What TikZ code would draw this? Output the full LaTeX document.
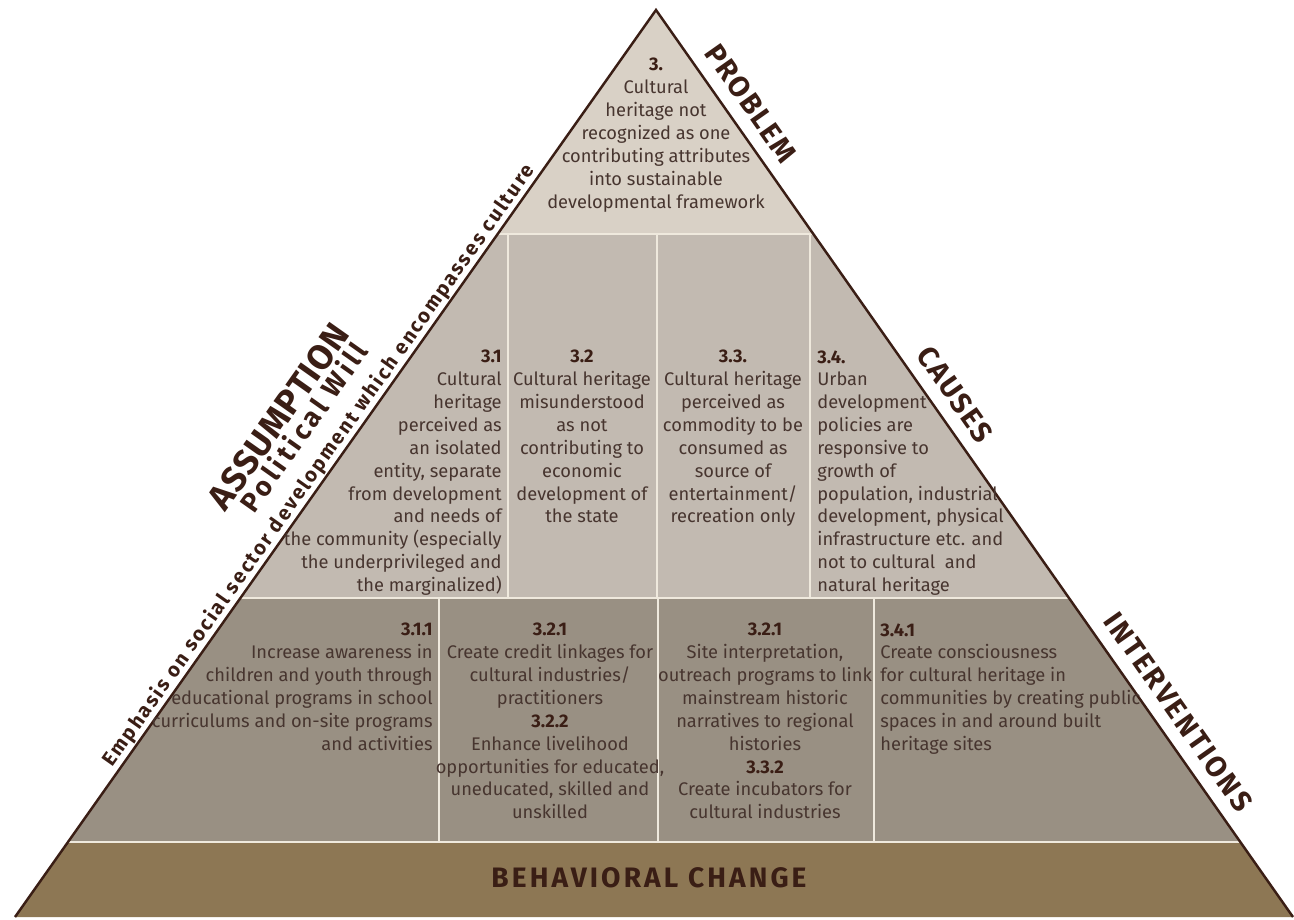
\documentclass[tikz,border=0pt]{standalone}
\usepackage{fontspec}
\setmainfont{Fira Sans}
\usetikzlibrary{calc}

\definecolor{rim}{HTML}{3A1E15}
\definecolor{ink}{HTML}{47352F}
\definecolor{topfill}{HTML}{D9D1C6}
\definecolor{causefill}{HTML}{C2BAB1}
\definecolor{actfill}{HTML}{999083}
\definecolor{basefill}{HTML}{8D7754}
\definecolor{seam}{HTML}{EFE9DD}

\newcommand{\num}[1]{{\color{rim}\bfseries #1}}

\tikzset{
  body/.style={inner sep=0pt, text=ink, font=\fontsize{10.4}{13}\selectfont},
  sidelabel/.style={anchor=base, inner sep=0pt, text=rim,
    font=\bfseries\fontsize{16.5}{16.5}\selectfont\addfontfeatures{LetterSpace=6}},
  rightside/.style={sidelabel, rotate=-54.92},
  leftside/.style={sidelabel, rotate=54.75},
  seamline/.style={draw=seam, line width=1.1pt},
}

\begin{document}
\begin{tikzpicture}[x=0.02cm, y=-0.02cm]
  \useasboundingbox (0,0) rectangle (1294,919);
  % corners of the pyramid
  \coordinate (apex) at (656,10);
  \coordinate (bl) at (15,917);
  \coordinate (br) at (1293,917);
  % band limits on both sides
  \coordinate (l1) at ($(apex)!0.247!(bl)$);
  \coordinate (r1) at ($(apex)!0.247!(br)$);
  \coordinate (l2) at ($(apex)!0.6483!(bl)$);
  \coordinate (r2) at ($(apex)!0.6483!(br)$);
  \coordinate (l3) at ($(apex)!0.9173!(bl)$);
  \coordinate (r3) at ($(apex)!0.9173!(br)$);

  % bands
  \fill[topfill] (apex) -- (l1) -- (r1) -- cycle;
  \fill[causefill] (l1) -- (r1) -- (r2) -- (l2) -- cycle;
  \fill[actfill] (l2) -- (r2) -- (r3) -- (l3) -- cycle;
  \fill[basefill] (l3) -- (r3) -- (br) -- (bl) -- cycle;

  % light seams between the cells
  \draw[seamline] (l1) -- (r1);
  \draw[seamline] (l2) -- (r2);
  \draw[seamline] (l3) -- (r3);
  \foreach \x in {508,657,810}
    \draw[seamline] (\x,234) -- (\x,598);
  \foreach \x in {439,658,874}
    \draw[seamline] (\x,598) -- (\x,842);

  % outline
  \draw[rim, line width=1.4pt] (bl) -- (apex) -- (br);

  % problem
  \node[body, align=center, anchor=north] (prob) at (656,58)
    {\num{3.}\\Cultural\\heritage not\\recognized as one\\contributing attributes\\into sustainable\\developmental framework};

  % causes
  \node[body, align=right, anchor=north east] (cause1) at (502,350)
    {\num{3.1}\\Cultural\\heritage\\perceived as\\an isolated\\entity, separate\\from development\\and needs of\\the community (especially\\the underprivileged and\\the marginalized)};
  \node[body, align=center, anchor=north] (cause2) at (582,350)
    {\num{3.2}\\Cultural heritage\\misunderstood\\as not\\contributing to\\economic\\development of\\the state};
  \node[body, align=center, anchor=north] (cause3) at (733,350)
    {\num{3.3.}\\Cultural heritage\\perceived as\\commodity to be\\consumed as\\source of\\entertainment/\\recreation only};
  \node[body, align=left, anchor=north west] (cause4) at (817,350)
    {\num{3.4.}\\Urban\\development\\policies are\\responsive to\\growth of\\population, industrial\\development, physical\\infrastructure etc. and\\not to cultural\ \ and\\natural heritage};

  % interventions
  \node[body, align=right, anchor=north east] (act1) at (433,623)
    {\num{3.1.1}\\Increase awareness in\\children and youth through\\educational programs in school\\curriculums and on-site programs\\and activities};
  \node[body, align=center, anchor=north] (act2) at (550,623)
    {\num{3.2.1}\\Create credit linkages for\\cultural industries/\\practitioners\\\num{3.2.2}\\Enhance livelihood\\opportunities for educated,\\uneducated, skilled and\\unskilled};
  \node[body, align=center, anchor=north] (act3) at (765,623)
    {\num{3.2.1}\\Site interpretation,\\outreach programs to link\\mainstream historic\\narratives to regional\\histories\\\num{3.3.2}\\Create incubators for\\cultural industries};
  \node[body, align=left, anchor=north west] (act4) at (880,623)
    {\num{3.4.1}\\Create consciousness\\for cultural heritage in\\communities by creating public\\spaces in and around built\\heritage sites};

  % base
  \node[text=rim, font=\bfseries\fontsize{16}{16}\selectfont\addfontfeatures{LetterSpace=11}] (change) at (649,878)
    {BEHAVIORAL CHANGE};

  % labels along the right side
  \coordinate (onprob) at ($(apex)!0.118!(br)$);
  \coordinate (oncause) at ($(apex)!0.439!(br)$);
  \coordinate (onact) at ($(apex)!0.789!(br)$);
  \node[rightside] (problem) at ($(onprob)!8pt!90:(br)$) {PROBLEM};
  \node[rightside] (causes) at ($(oncause)!8pt!90:(br)$) {CAUSES};
  \node[rightside, font=\bfseries\fontsize{16.5}{16.5}\selectfont\addfontfeatures{LetterSpace=8}] (interventions)
    at ($(onact)!8pt!90:(br)$) {INTERVENTIONS};

  % labels along the left side
  \coordinate (onemph) at ($(bl)!0.49!(apex)$);
  \coordinate (onwill) at ($(bl)!0.51!(apex)$);
  \coordinate (onassum) at ($(bl)!0.505!(apex)$);
  \node[leftside, font=\bfseries\fontsize{11.5}{11.5}\selectfont\addfontfeatures{LetterSpace=10}] (emphasis)
    at ($(onemph)!3.6pt!90:(apex)$) {Emphasis on social sector development which encompasses culture};
  \node[leftside, font=\bfseries\fontsize{15.5}{15.5}\selectfont\addfontfeatures{LetterSpace=14}] (will)
    at ($(onwill)!21pt!90:(apex)$) {Political Will};
  \node[leftside, font=\bfseries\fontsize{20}{20}\selectfont\addfontfeatures{LetterSpace=3}] (assumption)
    at ($(onassum)!35pt!90:(apex)$) {ASSUMPTION};
\end{tikzpicture}
\end{document}
